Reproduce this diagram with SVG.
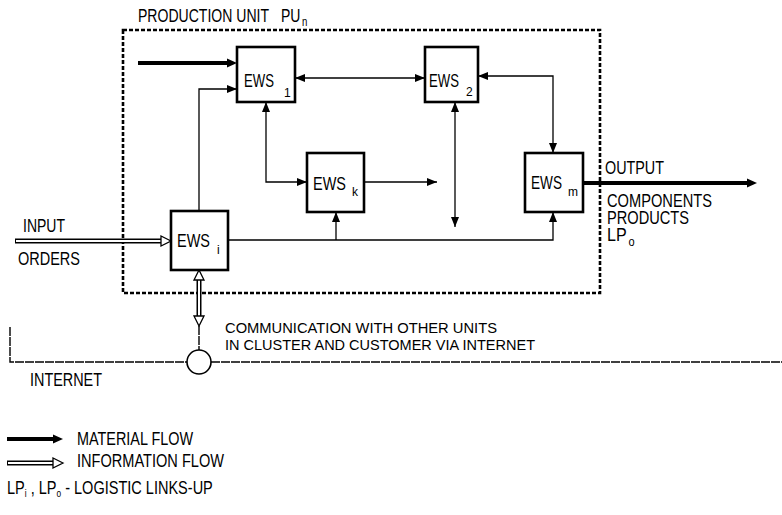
<svg xmlns="http://www.w3.org/2000/svg" width="782" height="515" viewBox="0 0 782 515">
<style>
text{font-family:"Liberation Sans",Arial,sans-serif;font-size:17.5px;fill:#000}
.sub{font-size:12px}
.sm{font-size:15px}
.box{fill:#fff;stroke:#000;stroke-width:2.6}
.thin{fill:none;stroke:#000;stroke-width:1.3}
.thick{fill:none;stroke:#000;stroke-width:4}
.infoO{fill:none;stroke:#000;stroke-width:5}
.infoI{fill:none;stroke:#fff;stroke-width:2}
.hollow{fill:#fff;stroke:#000;stroke-width:1.3}
.net{fill:none;stroke:#000;stroke-width:1.4;stroke-dasharray:9 1}
</style>
<defs>
<marker id="a" viewBox="0 0 10 8" refX="10" refY="4" markerWidth="10" markerHeight="8" markerUnits="userSpaceOnUse" orient="auto-start-reverse"><path d="M0,0 L10,4 L0,8 Z" fill="#000"/></marker>
</defs>
<g id="unit">
<rect x="123" y="30" width="477" height="263" fill="none" stroke="#000" stroke-width="2.6" stroke-dasharray="4 2"/>
<text x="138" y="22" textLength="131" lengthAdjust="spacingAndGlyphs">PRODUCTION UNIT</text>
<text transform="translate(281,22) scale(0.8,1)">PU<tspan class="sub" dx="2" dy="4">n</tspan></text>
</g>
<g id="connectors">
<path class="thick" d="M138,63 H229"/>
<polygon points="237,63 227,58.5 227,67.5" fill="#000"/>
<path class="thin" d="M199,211 V89 H237" marker-end="url(#a)"/>
<path class="thin" d="M295,78 H425" marker-start="url(#a)" marker-end="url(#a)"/>
<path class="thin" d="M478,76 H553 V153" marker-start="url(#a)" marker-end="url(#a)"/>
<path class="thin" d="M266,102 V182 H307" marker-start="url(#a)" marker-end="url(#a)"/>
<path class="thin" d="M364,182 H437" marker-end="url(#a)"/>
<path class="thin" d="M455,102 V227" marker-start="url(#a)" marker-end="url(#a)"/>
<path class="thin" d="M228,240 H553 V212" marker-end="url(#a)"/>
<path class="thin" d="M336,240 V212" marker-end="url(#a)"/>
<path class="thick" d="M583,183 H749"/>
<polygon points="757,183 747,178.5 747,187.5" fill="#000"/>
<path class="infoO" d="M15,241 H162"/>
<path class="infoI" d="M16,241 H163"/>
<polygon class="hollow" points="171,241 161,236 161,246"/>
<path class="infoO" d="M199,279 V317"/>
<path class="infoI" d="M199,278 V318"/>
<polygon class="hollow" points="199,270 194,280 204,280"/>
<polygon class="hollow" points="199,326 194,316 204,316"/>
<path class="net" d="M199,326 V350"/>
<path class="net" d="M10,327 V362 H187"/>
<path class="net" d="M211,362 H782"/>
</g>
<g id="ews1">
<rect class="box" x="237" y="47" width="58" height="55"/>
<text x="244" y="87" textLength="30" lengthAdjust="spacingAndGlyphs">EWS</text>
<text class="sub" x="284" y="97">1</text>
</g>
<g id="ews2">
<rect class="box" x="425" y="47" width="53" height="55"/>
<text x="429" y="87" textLength="30" lengthAdjust="spacingAndGlyphs">EWS</text>
<text class="sub" x="466" y="96">2</text>
</g>
<g id="ewsk">
<rect class="box" x="307" y="153" width="57" height="59"/>
<text x="313" y="190" textLength="33" lengthAdjust="spacingAndGlyphs">EWS</text>
<text class="sub" x="352" y="196">k</text>
</g>
<g id="ewsm">
<rect class="box" x="525" y="153" width="58" height="59"/>
<text x="531" y="189" textLength="31" lengthAdjust="spacingAndGlyphs">EWS</text>
<text class="sub" x="568" y="196">m</text>
</g>
<g id="ewsi">
<rect class="box" x="171" y="211" width="57" height="59"/>
<text x="177" y="247" textLength="33" lengthAdjust="spacingAndGlyphs">EWS</text>
<text class="sub" x="217" y="254">i</text>
</g>
<g id="input">
<text x="23" y="232" textLength="42" lengthAdjust="spacingAndGlyphs">INPUT</text>
<text x="18" y="265" textLength="62" lengthAdjust="spacingAndGlyphs">ORDERS</text>
</g>
<g id="output">
<text x="605" y="174" textLength="59" lengthAdjust="spacingAndGlyphs">OUTPUT</text>
<text x="607" y="207" textLength="105" lengthAdjust="spacingAndGlyphs">COMPONENTS</text>
<text x="607" y="224" textLength="82" lengthAdjust="spacingAndGlyphs">PRODUCTS</text>
<text transform="translate(607,241) scale(0.92,1)">LP<tspan class="sub" dx="2" dy="5">o</tspan></text>
</g>
<g id="internet">
<circle cx="199" cy="362" r="12" fill="#fff" stroke="#000" stroke-width="1.6"/>
<text class="sm" x="225" y="333" textLength="272" lengthAdjust="spacingAndGlyphs">COMMUNICATION WITH OTHER UNITS</text>
<text class="sm" x="225" y="349.5" textLength="310" lengthAdjust="spacingAndGlyphs">IN CLUSTER AND CUSTOMER VIA INTERNET</text>
<text x="30" y="386" textLength="72" lengthAdjust="spacingAndGlyphs">INTERNET</text>
</g>
<g id="legend">
<path class="thick" d="M7,439 H55"/>
<polygon points="63,439 53,434.5 53,443.5" fill="#000"/>
<text x="77" y="445" textLength="116" lengthAdjust="spacingAndGlyphs">MATERIAL FLOW</text>
<path class="infoO" d="M7,463 H55"/>
<path class="infoI" d="M8,463 H56"/>
<polygon class="hollow" points="63,463 53,458 53,468"/>
<text x="77" y="467" textLength="147" lengthAdjust="spacingAndGlyphs">INFORMATION FLOW</text>
<text transform="translate(7,494) scale(0.83,1)">LP<tspan font-size="10" dy="3">i</tspan><tspan dy="-3"> , LP</tspan><tspan font-size="10" dy="3">o</tspan><tspan dy="-3"> - LOGISTIC LINKS-UP</tspan></text>
</g>
</svg>
